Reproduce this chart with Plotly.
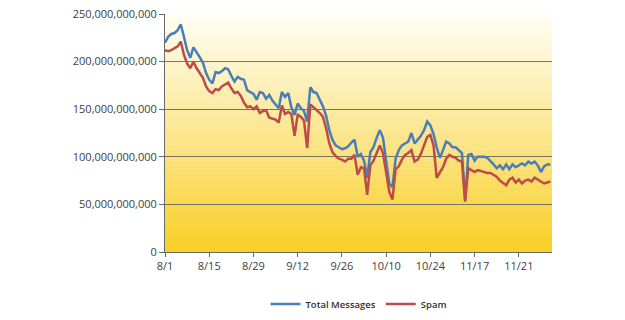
import plotly.graph_objects as go

# Daily values (billions of messages), 8/1 onward
total_b = [220, 226, 229, 230, 233, 239, 226, 212, 204, 215, 210, 205, 199, 188, 181, 177,
           189, 188, 190, 193, 192, 185, 179, 184, 182, 181, 170, 168, 166, 160, 168, 167,
           161, 165, 159, 155, 151, 168, 163, 167, 152, 144, 156, 151, 148, 137, 173, 168,
           167, 160, 153, 143, 128, 118, 112, 110, 108, 109, 111, 115, 118, 100, 103, 96,
           78, 105, 110, 120, 128, 120, 97, 72, 68, 98, 107, 112, 114, 116, 125, 114,
           118, 122, 128, 137, 133, 124, 110, 99, 107, 116, 114, 110, 110, 107, 104, 55,
           102, 103, 96, 100, 100, 100, 99, 96, 92, 88, 91, 87, 92, 87, 92, 89,
           91, 93, 91, 95, 93, 95, 91, 84, 90, 92, 92]
spam_b = [212, 211, 212, 214, 216, 221, 207, 198, 193, 200, 193, 188, 183, 174, 169, 167,
          171, 170, 174, 176, 178, 172, 167, 168, 164, 157, 152, 153, 150, 153, 146, 148,
          149, 141, 140, 139, 136, 154, 145, 147, 145, 122, 144, 142, 138, 109, 155, 152,
          150, 146, 142, 130, 114, 105, 101, 98, 97, 95, 98, 98, 102, 81, 89, 88,
          60, 91, 96, 104, 112, 104, 83, 63, 55, 87, 90, 97, 102, 104, 107, 95,
          97, 103, 112, 121, 123, 112, 78, 84, 89, 98, 102, 100, 99, 96, 95, 53,
          88, 86, 84, 86, 85, 84, 83, 83, 81, 79, 75, 72, 70, 76, 78, 73,
          76, 72, 75, 76, 74, 78, 76, 74, 72, 73, 74]
tick_days = [0, 14, 28, 42, 56, 70, 84, 98, 112]
tick_labels = ["8/1", "8/15", "8/29", "9/12", "9/26", "10/10", "10/24", "11/17", "11/21"]
y_ticks = [0, 50e9, 100e9, 150e9, 200e9, 250e9]

days = list(range(len(total_b)))
total = [v * 1e9 for v in total_b]
spam = [v * 1e9 for v in spam_b]

fig = go.Figure()
fig.add_trace(go.Scatter(x=days, y=total, mode="lines", name="Total Messages",
                         line=dict(color="#4A7EBB", width=2.5)))
fig.add_trace(go.Scatter(x=days, y=spam, mode="lines", name="Spam",
                         line=dict(color="#BE4B48", width=2.5)))

# vertical gradient background (white top -> gold bottom)
N = 60
top = (255, 254, 245)
bot = (249, 207, 40)
shapes = []
for i in range(N):
    t = i / (N - 1)
    c = tuple(int(round(bot[k] + (top[k] - bot[k]) * t)) for k in range(3))
    shapes.append(dict(type="rect", xref="x domain", yref="y domain",
                       x0=0, x1=1, y0=i / N, y1=(i + 1) / N + 0.002,
                       fillcolor="rgb(%d,%d,%d)" % c, line=dict(width=0),
                       layer="below"))

fig.update_layout(
    width=625, height=320,
    margin=dict(l=165, r=73, t=14, b=68, autoexpand=False),
    paper_bgcolor="white", plot_bgcolor="white",
    shapes=shapes,
    font=dict(family="Open Sans, DejaVu Sans, sans-serif", size=11, color="#404040"),
    showlegend=True,
    legend=dict(orientation="h", x=0.5, xanchor="center", xref="paper",
                y=0.05, yref="container", yanchor="middle",
                itemwidth=30, tracegroupgap=0,
                font=dict(size=9.5, color="#303030", weight=600), bgcolor="rgba(0,0,0,0)"),
)
fig.update_xaxes(range=[0, 122.5], tickmode="array", tickvals=tick_days, ticktext=tick_labels,
                 showgrid=False, zeroline=False, showline=True, linecolor="#6a6a6a",
                 linewidth=1, ticks="outside", ticklen=4, tickcolor="#6a6a6a",
                 tickfont=dict(size=11, color="#404040"))
fig.update_yaxes(range=[0, 250e9], tickmode="array", tickvals=y_ticks, tickformat=",.0f",
                 showgrid=True, gridcolor="#78745e", gridwidth=1, zeroline=False,
                 showline=True, linecolor="#6a6a6a", linewidth=1,
                 ticks="outside", ticklen=5, tickcolor="#6a6a6a",
                 tickfont=dict(size=11, color="#404040"))

fig.write_html("out.html")
